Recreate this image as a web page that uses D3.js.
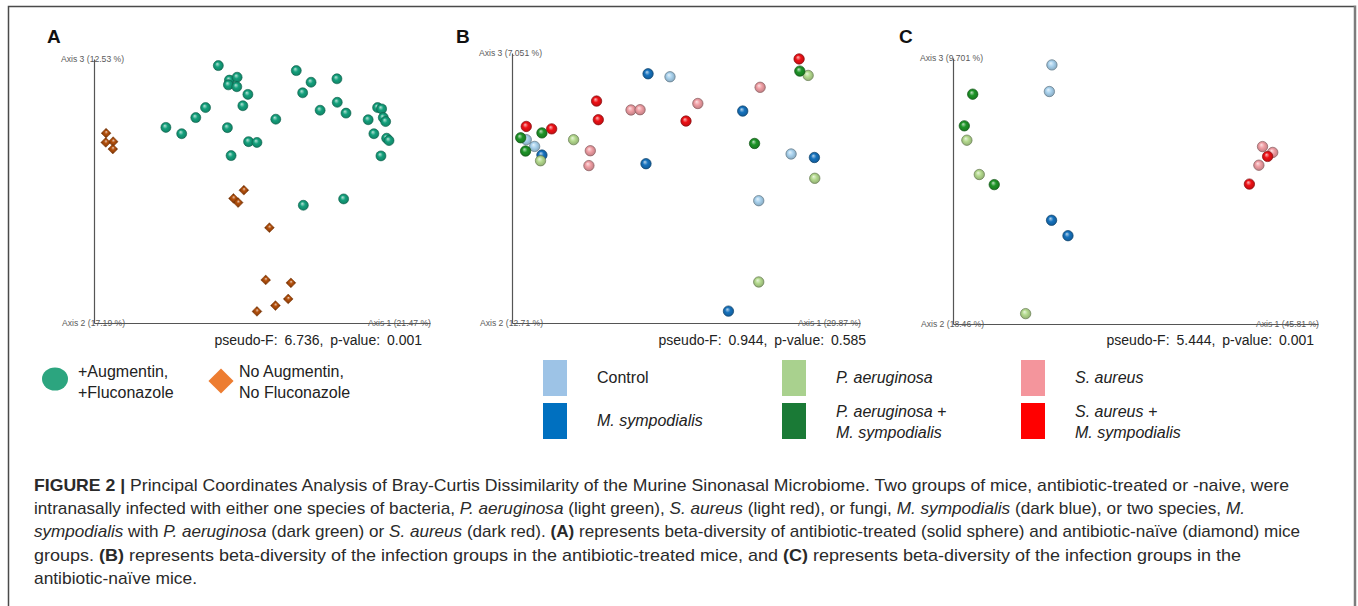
<!DOCTYPE html>
<html>
<head>
<meta charset="utf-8">
<script src="https://cdn.jsdelivr.net/npm/d3@7"></script>
<style>
  body { margin: 0; background: #fff; }
  svg { display: block; font-family: "Liberation Sans", Arial, sans-serif; }
</style>
</head>
<body>
<div id="chart"></div>
<script>
// ---- data (PCoA coordinates, rescaled to 0-100 along each plotted axis) ----
const panelLetters = ["A", "B", "C"];
const axisLabels = [
  ["Axis 1 (21.47 %)", "Axis 2 (17.19 %)", "Axis 3 (12.53 %)"],
  ["Axis 1 (29.87 %)", "Axis 2 (12.71 %)", "Axis 3 (7.051 %)"],
  ["Axis 1 (45.81 %)", "Axis 2 (18.46 %)", "Axis 3 (9.701 %)"]
];
const pseudoF = ["6.736", "0.944", "5.444"];
const pValues = ["0.001", "0.585", "0.001"];

const treatmentLabels = [["+Augmentin,", "+Fluconazole"], ["No Augmentin,", "No Fluconazole"]];

// panel A: antibiotic-treated (spheres) and antibiotic-naive (diamonds)
const panelATreated = [
  [37.0, 97.5], [40.3, 92.0], [42.6, 93.1], [40.0, 90.2], [42.5, 89.5], [45.8, 86.6],
  [44.3, 82.3], [33.2, 81.6], [30.3, 77.8], [21.4, 74.1], [26.1, 71.7], [39.7, 74.0],
  [40.8, 63.4], [46.0, 68.7], [48.5, 68.4], [54.1, 77.2], [60.2, 95.6], [64.6, 91.2],
  [62.1, 87.2], [67.3, 80.6], [72.3, 92.5], [72.4, 83.6], [75.0, 79.5], [84.4, 81.6],
  [85.6, 81.1], [81.6, 77.0], [86.1, 77.8], [86.8, 76.3], [83.3, 71.7], [87.1, 70.0],
  [87.8, 69.1], [85.4, 63.3], [62.3, 44.6], [74.3, 47.0]
];
const panelANaive = [
  [3.6, 71.9], [5.7, 68.7], [3.5, 68.4], [5.6, 65.9], [44.6, 50.3], [41.5, 47.2],
  [42.9, 45.6], [52.2, 36.1], [51.1, 16.3], [58.6, 15.2], [57.8, 9.1], [54.0, 6.6],
  [48.5, 4.4]
];

// infection groups (legend order: column by column)
const infectionGroups = ["Control", "M. sympodialis", "P. aeruginosa",
  "P. aeruginosa + M. sympodialis", "S. aureus", "S. aureus + M. sympodialis"];
const groupLegendLines = [["Control"], ["M. sympodialis"], ["P. aeruginosa"],
  ["P. aeruginosa +", "M. sympodialis"], ["S. aureus"], ["S. aureus +", "M. sympodialis"]];

// panel B: antibiotic-treated mice, per group
const panelBPoints = [
  [[45.4, 91.2], [4.1, 67.9], [6.5, 65.4], [80.2, 62.6], [70.9, 45.3]],
  [[39.1, 92.3], [66.3, 78.5], [8.6, 62.2], [38.5, 59.0], [86.9, 61.3], [62.2, 4.4]],
  [[85.1, 91.7], [17.7, 67.9], [8.2, 60.1], [87.0, 53.6], [70.9, 15.2]],
  [[82.7, 93.3], [8.6, 70.4], [2.5, 68.6], [3.9, 63.7], [69.7, 66.5]],
  [[71.3, 87.3], [34.2, 78.9], [36.8, 79.0], [53.4, 81.3], [22.5, 63.8], [22.1, 58.3]],
  [[82.5, 97.8], [24.3, 82.2], [24.8, 75.3], [4.1, 72.8], [11.4, 71.9], [50.0, 74.8]]
];
// panel C: antibiotic-naive mice, per group
const panelCPoints = [
  [[27.1, 97.4], [26.4, 87.4]],
  [[27.0, 39.0], [31.5, 33.2]],
  [[3.8, 69.1], [7.2, 56.2], [19.9, 3.9]],
  [[5.4, 86.4], [3.1, 74.5], [11.3, 52.4]],
  [[84.8, 66.7], [87.6, 64.5], [83.8, 59.7]],
  [[86.2, 63.0], [81.2, 52.6]]
];

const captionLines = [
  "**FIGURE 2 |** Principal Coordinates Analysis of Bray-Curtis Dissimilarity of the Murine Sinonasal Microbiome. Two groups of mice, antibiotic-treated or -naive, were",
  "intranasally infected with either one species of bacteria, *P. aeruginosa* (light green), *S. aureus* (light red), or fungi, *M. sympodialis* (dark blue), or two species, *M.*",
  "*sympodialis* with *P. aeruginosa* (dark green) or *S. aureus* (dark red). **(A)** represents beta-diversity of antibiotic-treated (solid sphere) and antibiotic-naïve (diamond) mice",
  "groups. **(B)** represents beta-diversity of the infection groups in the antibiotic-treated mice, and **(C)** represents beta-diversity of the infection groups in the",
  "antibiotic-naïve mice."
];

// ---- styles & layout ----
const legendColors = ["#9dc3e6", "#0070c0", "#a9d18e", "#1a7a36", "#f4959c", "#ff0000"];
const sphereColors = ["#a9d2ee", "#1672bd", "#b4da8e", "#1e9428", "#f09ea4", "#ee1116"];
const drawOrder = [0, 1, 2, 4, 3, 5];
const treatedColor = "#14a07c";
const naiveColor = "#b4500c";

const width = 1358, height = 606;
const panels = [
  { x0: 94, x1: 430, yTop: 59, yBot: 323, letterX: 47, pfX: 422 },
  { x0: 512, x1: 860, yTop: 53, yBot: 323, letterX: 456, pfX: 866 },
  { x0: 953, x1: 1318, yTop: 58, yBot: 324, letterX: 899, pfX: 1314 }
];
// right edge of each caption line in the reference layout
const captionLineEnds = [1289, 1245, 1300, 1241, 197];

const svg = d3.select("#chart").append("svg")
  .attr("width", width).attr("height", height);

const defs = svg.append("defs");
function sphereGradient(id, c) {
  const base = d3.color(c);
  const g = defs.append("radialGradient").attr("id", id)
    .attr("cx", "50%").attr("cy", "50%").attr("r", "55%")
    .attr("fx", "38%").attr("fy", "32%");
  g.append("stop").attr("offset", "0%").attr("stop-color", d3.interpolateRgb(c, "#fff")(0.7));
  g.append("stop").attr("offset", "45%").attr("stop-color", c);
  g.append("stop").attr("offset", "85%").attr("stop-color", base.darker(0.5));
  g.append("stop").attr("offset", "100%").attr("stop-color", base.darker(1.3));
  return "url(#" + id + ")";
}
const treatedFill = sphereGradient("g-treated", treatedColor);
const naiveFill = sphereGradient("g-naive", naiveColor);
const groupFills = sphereColors.map((c, i) => sphereGradient("g-grp" + i, c));

// figure frame
svg.append("path")
  .attr("d", "M8.5,606 V6.5 H1354")
  .attr("fill", "none").attr("stroke", "#4a4a4a").attr("stroke-width", 1.5);
svg.append("line")
  .attr("x1", 1355).attr("x2", 1355).attr("y1", 5.5).attr("y2", 606)
  .attr("stroke", "#7c7c7c").attr("stroke-width", 2.5);

// ---- panels ----
const scales = panels.map(p => ({
  x: d3.scaleLinear().domain([0, 100]).range([p.x0, p.x1]),
  y: d3.scaleLinear().domain([0, 100]).range([p.yBot, p.yTop])
}));

panels.forEach((p, i) => {
  const { x, y } = scales[i];
  const g = svg.append("g");

  g.append("text")
    .attr("x", p.letterX).attr("y", 43)
    .attr("font-size", 19).attr("font-weight", "bold").attr("fill", "#111")
    .text(panelLetters[i]);

  // axis lines without ticks
  g.append("g")
    .attr("transform", "translate(0," + y(0) + ")")
    .call(d3.axisBottom(x).tickValues([]).tickSizeOuter(0))
    .select(".domain").attr("stroke", "#555").attr("stroke-width", 1.2);
  g.append("g")
    .attr("transform", "translate(" + x(0) + ",0)")
    .call(d3.axisLeft(y).tickValues([]).tickSizeOuter(0))
    .select(".domain").attr("stroke", "#555").attr("stroke-width", 1.2);

  const lab = g.append("g").attr("font-size", 8.6).attr("fill", "#5a5a5a");
  lab.append("text").attr("x", x(100) + 1).attr("y", y(0)).attr("dy", "0.35em")
    .attr("text-anchor", "end").text(axisLabels[i][0]);
  lab.append("text").attr("x", x(0) - 32).attr("y", y(0)).attr("dy", "0.35em")
    .text(axisLabels[i][1]);
  lab.append("text").attr("x", x(0) - 33).attr("y", y(100)).attr("dy", "0.35em")
    .text(axisLabels[i][2]);

  g.append("text")
    .attr("x", p.pfX).attr("y", 345)
    .attr("text-anchor", "end").attr("font-size", 14).attr("fill", "#222")
    .attr("word-spacing", 3)
    .text("pseudo-F: " + pseudoF[i] + ", p-value: " + pValues[i]);
});

// panel A marks
{
  const { x, y } = scales[0];
  svg.append("g").selectAll("circle").data(panelATreated).join("circle")
    .attr("cx", d => x(d[0])).attr("cy", d => y(d[1])).attr("r", 5)
    .attr("fill", treatedFill)
    .attr("stroke", d3.color(treatedColor).darker(1.4)).attr("stroke-width", 0.6);
  const diamond = d3.symbol().type(d3.symbolSquare).size(48);
  svg.append("g").selectAll("path").data(panelANaive).join("path")
    .attr("d", diamond)
    .attr("transform", d => "translate(" + x(d[0]) + "," + y(d[1]) + ") rotate(45)")
    .attr("fill", naiveFill)
    .attr("stroke", d3.color(naiveColor).darker(0.8)).attr("stroke-width", 0.5);
}

// panels B and C marks
[panelBPoints, panelCPoints].forEach((pts, k) => {
  const { x, y } = scales[k + 1];
  const g = svg.append("g");
  drawOrder.forEach(gi => {
    g.append("g").selectAll("circle").data(pts[gi]).join("circle")
      .attr("cx", d => x(d[0])).attr("cy", d => y(d[1])).attr("r", 5.2)
      .attr("fill", groupFills[gi])
      .attr("stroke", d3.color(sphereColors[gi]).darker(1.5)).attr("stroke-width", 0.7);
  });
});

// ---- legends ----
const legA = svg.append("g").attr("font-size", 16).attr("fill", "#222");
legA.append("ellipse").attr("cx", 55).attr("cy", 379).attr("rx", 13).attr("ry", 11.5)
  .attr("fill", "#2ca57f");
legA.append("path")
  .attr("d", d3.symbol().type(d3.symbolSquare).size(315))
  .attr("transform", "translate(221,381) rotate(45)")
  .attr("fill", "#ed7d31");
[[78, treatmentLabels[0]], [239, treatmentLabels[1]]].forEach(([lx, lines]) => {
  lines.forEach((t, j) => legA.append("text").attr("x", lx).attr("y", 377 + j * 21).text(t));
});

const legCols = [543, 782, 1021];
const legRows = [360, 403];
const legB = svg.append("g").attr("font-size", 16).attr("fill", "#222");
infectionGroups.forEach((name, i) => {
  const cx = legCols[Math.floor(i / 2)], ry = legRows[i % 2];
  legB.append("rect").attr("x", cx).attr("y", ry).attr("width", 24).attr("height", 36)
    .attr("fill", legendColors[i]);
  const lines = groupLegendLines[i];
  const t = legB.append("text").attr("font-style", i === 0 ? "normal" : "italic");
  const baseY = lines.length === 1 ? ry + 23 : ry + 14;
  lines.forEach((ln, j) => t.append("tspan").attr("x", cx + 54).attr("y", baseY + j * 21).text(ln));
});

// ---- caption ----
const cap = svg.append("g").attr("fill", "#2a2a2a").attr("font-size", 16.2);
captionLines.forEach((line, li) => {
  const t = cap.append("text").attr("x", 34).attr("y", 491 + li * 23.2);
  line.split(/(\*\*[^*]+\*\*|\*[^*]+\*)/).filter(s => s.length).forEach(s => {
    const ts = t.append("tspan");
    if (s.startsWith("**")) ts.attr("font-weight", "bold").text(s.slice(2, -2));
    else if (s.startsWith("*")) ts.attr("font-style", "italic").text(s.slice(1, -1));
    else ts.text(s);
  });
  // condense each line to the width it has in the reference
  t.attr("textLength", captionLineEnds[li] - 34).attr("lengthAdjust", "spacingAndGlyphs");
});
</script>
</body>
</html>
